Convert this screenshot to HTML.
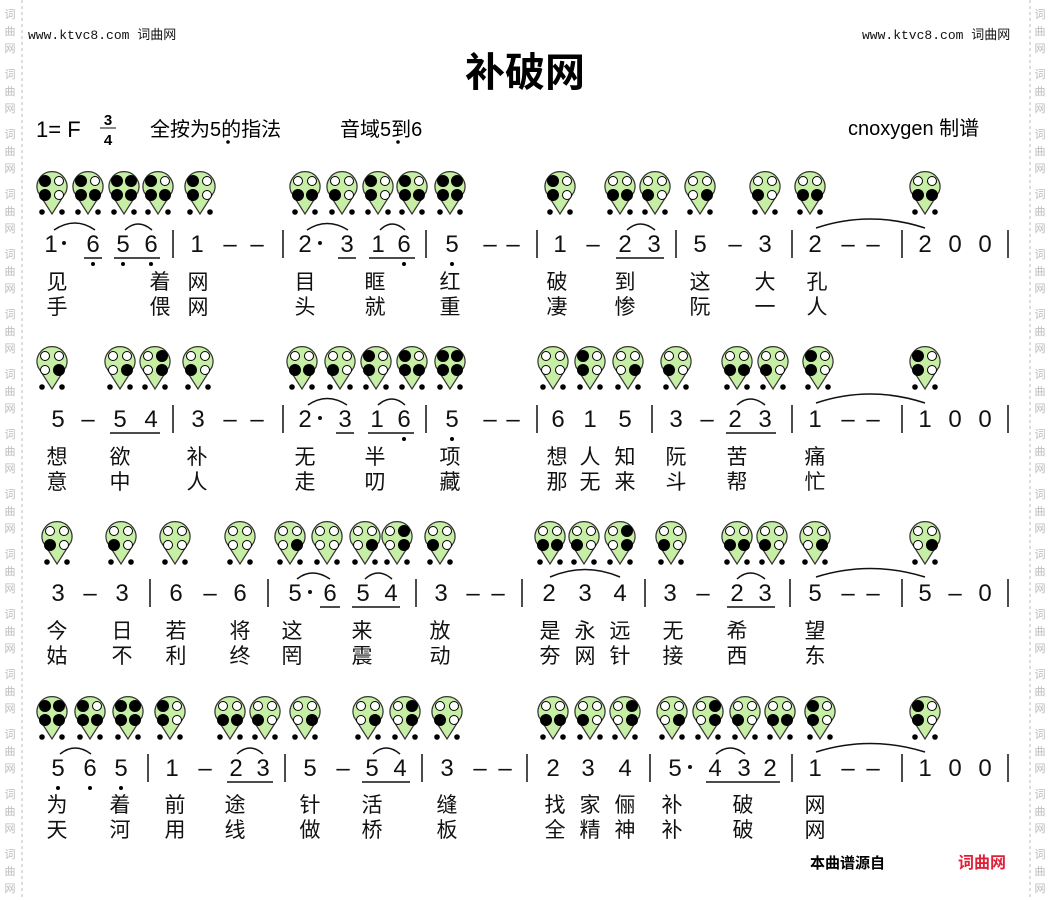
<!DOCTYPE html>
<html><head><meta charset="utf-8"><style>
html,body{margin:0;padding:0;background:#fff}
svg{display:block}
.n{font:24px "Liberation Sans","Noto Sans CJK SC",sans-serif;text-anchor:middle;fill:#111}
.l{font:21px "Noto Sans CJK SC","WenQuanYi Zen Hei",sans-serif;text-anchor:middle;fill:#111}
.w{font:13px "Liberation Mono","Noto Sans CJK SC",monospace;fill:#111}
.side{font:11px "Noto Sans CJK SC",sans-serif;fill:#bbb;text-anchor:middle}
</style></head><body>
<svg id="s" width="1050" height="900" xmlns="http://www.w3.org/2000/svg">
<line x1="22" y1="0" x2="22" y2="900" stroke="#bbb" stroke-dasharray="3,3"/>
<line x1="1030" y1="0" x2="1030" y2="900" stroke="#bbb" stroke-dasharray="3,3"/>
<g id="sides"></g>
<text class="w" x="28" y="39">www.ktvc8.com 词曲网</text>
<text class="w" x="862" y="39">www.ktvc8.com 词曲网</text>
<text x="525" y="86" text-anchor="middle" style="font:bold 40px 'Noto Sans CJK SC',sans-serif">补破网</text>
<text x="36" y="137" style="font:22px 'Liberation Sans',sans-serif">1= F</text>
<text x="108" y="125" text-anchor="middle" style="font:bold 15px 'Liberation Sans',sans-serif">3</text>
<line x1="100" y1="128" x2="116" y2="128" stroke="#111"/>
<text x="108" y="145" text-anchor="middle" style="font:bold 15px 'Liberation Sans',sans-serif">4</text>
<text x="150" y="136" style="font:20px 'Noto Sans CJK SC',sans-serif">全按为<tspan font-family="Liberation Sans">5</tspan>的指法</text>
<text x="340" y="136" style="font:20px 'Noto Sans CJK SC',sans-serif">音域<tspan font-family="Liberation Sans">5</tspan>到<tspan font-family="Liberation Sans">6</tspan></text>
<circle cx="228" cy="142" r="1.8"/><circle cx="398" cy="142" r="1.8"/>
<text x="848" y="135" style="font:20px 'Liberation Sans','Noto Sans CJK SC',sans-serif">cnoxygen 制谱</text>
<g id="icons"></g>
<g class="n">
<!-- row1 -->
<text x="51" y="252">1</text><circle cx="64" cy="243" r="2"/><text x="93" y="252">6</text><text x="123" y="252">5</text><text x="151" y="252">6</text>
<text x="197" y="252">1</text><text x="230" y="252">–</text><text x="257" y="252">–</text>
<text x="305" y="252">2</text><circle cx="320" cy="243" r="2"/><text x="347" y="252">3</text><text x="378" y="252">1</text><text x="404" y="252">6</text>
<text x="452" y="252">5</text><text x="490" y="252">–</text><text x="513" y="252">–</text>
<text x="560" y="252">1</text><text x="593" y="252">–</text><text x="625" y="252">2</text><text x="654" y="252">3</text>
<text x="700" y="252">5</text><text x="735" y="252">–</text><text x="765" y="252">3</text>
<text x="815" y="252">2</text><text x="848" y="252">–</text><text x="873" y="252">–</text>
<text x="925" y="252">2</text><text x="955" y="252">0</text><text x="985" y="252">0</text>
<!-- row2 -->
<text x="58" y="427">5</text><text x="88" y="427">–</text><text x="120" y="427">5</text><text x="151" y="427">4</text>
<text x="198" y="427">3</text><text x="230" y="427">–</text><text x="257" y="427">–</text>
<text x="305" y="427">2</text><circle cx="320" cy="418" r="2"/><text x="345" y="427">3</text><text x="377" y="427">1</text><text x="404" y="427">6</text>
<text x="452" y="427">5</text><text x="490" y="427">–</text><text x="513" y="427">–</text>
<text x="558" y="427">6</text><text x="590" y="427">1</text><text x="625" y="427">5</text>
<text x="676" y="427">3</text><text x="707" y="427">–</text><text x="735" y="427">2</text><text x="765" y="427">3</text>
<text x="815" y="427">1</text><text x="848" y="427">–</text><text x="873" y="427">–</text>
<text x="925" y="427">1</text><text x="955" y="427">0</text><text x="985" y="427">0</text>
<!-- row3 -->
<text x="58" y="601">3</text><text x="90" y="601">–</text><text x="122" y="601">3</text>
<text x="176" y="601">6</text><text x="210" y="601">–</text><text x="240" y="601">6</text>
<text x="295" y="601">5</text><circle cx="310" cy="592" r="2"/><text x="330" y="601">6</text><text x="363" y="601">5</text><text x="391" y="601">4</text>
<text x="441" y="601">3</text><text x="473" y="601">–</text><text x="498" y="601">–</text>
<text x="549" y="601">2</text><text x="585" y="601">3</text><text x="620" y="601">4</text>
<text x="670" y="601">3</text><text x="703" y="601">–</text><text x="737" y="601">2</text><text x="765" y="601">3</text>
<text x="815" y="601">5</text><text x="848" y="601">–</text><text x="873" y="601">–</text>
<text x="925" y="601">5</text><text x="955" y="601">–</text><text x="985" y="601">0</text>
<!-- row4 -->
<text x="58" y="776">5</text><text x="90" y="776">6</text><text x="121" y="776">5</text>
<text x="172" y="776">1</text><text x="205" y="776">–</text><text x="236" y="776">2</text><text x="263" y="776">3</text>
<text x="310" y="776">5</text><text x="343" y="776">–</text><text x="372" y="776">5</text><text x="400" y="776">4</text>
<text x="447" y="776">3</text><text x="480" y="776">–</text><text x="505" y="776">–</text>
<text x="553" y="776">2</text><text x="588" y="776">3</text><text x="625" y="776">4</text>
<text x="675" y="776">5</text><circle cx="690" cy="767" r="2"/><text x="715" y="776">4</text><text x="744" y="776">3</text><text x="770" y="776">2</text>
<text x="815" y="776">1</text><text x="848" y="776">–</text><text x="873" y="776">–</text>
<text x="925" y="776">1</text><text x="955" y="776">0</text><text x="985" y="776">0</text>
</g>
<g stroke="#111" stroke-width="1.5" fill="none" id="lines">
<!-- underlines -->
<path d="M84 258h18M114 258h46M338 258h18M369 258h46M616 258h48
M110 433h50M336 433h18M368 433h46M726 433h50
M320 607h20M352 607h48M727 607h48
M227 782h46M362 782h48M706 782h74"/>
<!-- bars -->
<path d="M173 230v28M283 230v28M426 230v28M537 230v28M676 230v28M792 230v28M902 230v28M1008 230v28
M173 405v28M283 405v28M426 405v28M537 405v28M652 405v28M792 405v28M902 405v28M1008 405v28
M150 579v28M268 579v28M416 579v28M522 579v28M645 579v28M790 579v28M902 579v28M1008 579v28
M148 754v28M285 754v28M422 754v28M527 754v28M650 754v28M792 754v28M902 754v28M1008 754v28"/>
<!-- slurs -->
<path d="M54 230Q75 216 95 230M125 230Q138 218 152 230M307 230Q327 217 348 230M380 230Q392 218 405 230M627 230Q640 218 655 230M816 228Q870 210 925 228
M308 405Q327 392 347 405M378 405Q392 393 405 405M737 405Q750 393 765 405M816 403Q870 385 925 403
M297 579Q312 567 330 579M365 579Q378 567 392 579M550 577Q585 562 620 577M737 579Q750 567 765 579M816 577Q870 560 925 577
M60 754Q75 742 91 754M237 754Q250 742 263 754M373 754Q386 742 400 754M716 754Q730 742 745 754M816 752Q870 735 925 752"/>
</g>
<g id="dots"></g>
<g class="l">
<text x="57" y="289">见</text><text x="160" y="289">着</text><text x="198" y="289">网</text><text x="305" y="289">目</text><text x="375" y="289">眶</text><text x="450" y="289">红</text><text x="557" y="289">破</text><text x="625" y="289">到</text><text x="700" y="289">这</text><text x="765" y="289">大</text><text x="817" y="289">孔</text>
<text x="57" y="314">手</text><text x="160" y="314">偎</text><text x="198" y="314">网</text><text x="305" y="314">头</text><text x="375" y="314">就</text><text x="450" y="314">重</text><text x="557" y="314">凄</text><text x="625" y="314">惨</text><text x="700" y="314">阮</text><text x="765" y="314">一</text><text x="817" y="314">人</text>
<text x="57" y="464">想</text><text x="120" y="464">欲</text><text x="197" y="464">补</text><text x="305" y="464">无</text><text x="375" y="464">半</text><text x="450" y="464">项</text><text x="557" y="464">想</text><text x="590" y="464">人</text><text x="625" y="464">知</text><text x="676" y="464">阮</text><text x="737" y="464">苦</text><text x="815" y="464">痛</text>
<text x="57" y="489">意</text><text x="120" y="489">中</text><text x="197" y="489">人</text><text x="305" y="489">走</text><text x="375" y="489">叨</text><text x="450" y="489">藏</text><text x="557" y="489">那</text><text x="590" y="489">无</text><text x="625" y="489">来</text><text x="676" y="489">斗</text><text x="737" y="489">帮</text><text x="815" y="489">忙</text>
<text x="57" y="638">今</text><text x="122" y="638">日</text><text x="176" y="638">若</text><text x="240" y="638">将</text><text x="292" y="638">这</text><text x="362" y="638">来</text><text x="440" y="638">放</text><text x="550" y="638">是</text><text x="585" y="638">永</text><text x="620" y="638">远</text><text x="673" y="638">无</text><text x="737" y="638">希</text><text x="815" y="638">望</text>
<text x="57" y="663">姑</text><text x="122" y="663">不</text><text x="176" y="663">利</text><text x="240" y="663">终</text><text x="292" y="663">罔</text><text x="362" y="663">震</text><text x="440" y="663">动</text><text x="550" y="663">夯</text><text x="585" y="663">网</text><text x="620" y="663">针</text><text x="673" y="663">接</text><text x="737" y="663">西</text><text x="815" y="663">东</text>
<text x="57" y="812">为</text><text x="120" y="812">着</text><text x="175" y="812">前</text><text x="235" y="812">途</text><text x="310" y="812">针</text><text x="372" y="812">活</text><text x="447" y="812">缝</text><text x="555" y="812">找</text><text x="590" y="812">家</text><text x="625" y="812">俪</text><text x="672" y="812">补</text><text x="743" y="812">破</text><text x="815" y="812">网</text>
<text x="57" y="837">天</text><text x="120" y="837">河</text><text x="175" y="837">用</text><text x="235" y="837">线</text><text x="310" y="837">做</text><text x="372" y="837">桥</text><text x="447" y="837">板</text><text x="555" y="837">全</text><text x="590" y="837">精</text><text x="625" y="837">神</text><text x="672" y="837">补</text><text x="743" y="837">破</text><text x="815" y="837">网</text>
</g>
<text x="810" y="868" style="font:bold 15px 'Noto Sans CJK SC',sans-serif">本曲谱源自</text>
<text x="958" y="868" style="font:bold 16px 'Noto Sans CJK SC',sans-serif" fill="#e0203a">词曲网</text>
</svg>
<script>
var NS="http://www.w3.org/2000/svg",g=document.getElementById('icons');
function el(t,a,p){var e=document.createElementNS(NS,t);for(var k in a)e.setAttribute(k,a[k]);(p||g).appendChild(e);return e;}
var P={'L5':'1111','L6':'1011','L7':'1101','1':'1010','2':'0011','3':'0010','4':'0101','5':'0001','6':'0000'};
function icon(x,y,n){
 el('path',{d:'M'+(x-14)+' '+(y+22)+'A15 15 0 1 1 '+(x+14)+' '+(y+22)+'L'+x+' '+(y+44)+'Z',fill:'#c6eea4',stroke:'#333','stroke-width':1.2});
 var p=P[n]||'1111',c=[[x-7,y+11],[x+7,y+11],[x-7,y+25],[x+7,y+25]];
 for(var i=0;i<4;i++)el('circle',{cx:c[i][0],cy:c[i][1],r:p[i]=='1'?5.5:4.5,fill:p[i]=='1'?'#000':'#fff',stroke:'#000','stroke-width':1});
 el('circle',{cx:x-10,cy:y+42,r:2.8});el('circle',{cx:x+10,cy:y+42,r:2.8});
}
var R=[[170,[[52,'1'],[88,'L6'],[124,'L5'],[158,'L6'],[200,'1'],[305,'2'],[342,'3'],[378,'1'],[412,'L6'],[450,'L5'],[560,'1'],[620,'2'],[655,'3'],[700,'5'],[765,'3'],[810,'2'],[925,'2']]],
[345,[[52,'5'],[120,'5'],[155,'4'],[198,'3'],[302,'2'],[340,'3'],[376,'1'],[412,'L6'],[450,'L5'],[553,'6'],[590,'1'],[628,'5'],[676,'3'],[737,'2'],[773,'3'],[818,'1'],[925,'1']]],
[520,[[57,'3'],[121,'3'],[175,'6'],[240,'6'],[290,'5'],[327,'6'],[365,'5'],[397,'4'],[440,'3'],[550,'2'],[584,'3'],[620,'4'],[671,'3'],[737,'2'],[772,'3'],[815,'5'],[925,'5']]],
[695,[[52,'L5'],[90,'L6'],[128,'L5'],[170,'1'],[230,'2'],[265,'3'],[305,'5'],[368,'5'],[405,'4'],[447,'3'],[553,'2'],[590,'3'],[625,'4'],[672,'5'],[708,'4'],[745,'3'],[780,'2'],[820,'1'],[925,'1']]]];
R.forEach(function(r){r[1].forEach(function(a){icon(a[0],r[0],a[1]);});});
var d=document.getElementById('dots');
[[93,264],[123,264],[151,264],[404,264],[452,264],[452,439],[404,439],[58,788],[90,788],[121,788]].forEach(function(a){el('circle',{cx:a[0],cy:a[1],r:2},d);});
var s=document.getElementById('sides');
for(var y=18;y<900;y+=60){['词','曲','网'].forEach(function(c,i){[10,1040].forEach(function(x){var t=el('text',{x:x,y:y+i*17,'class':'side'},s);t.textContent=c;});});}
</script>
</body></html>
